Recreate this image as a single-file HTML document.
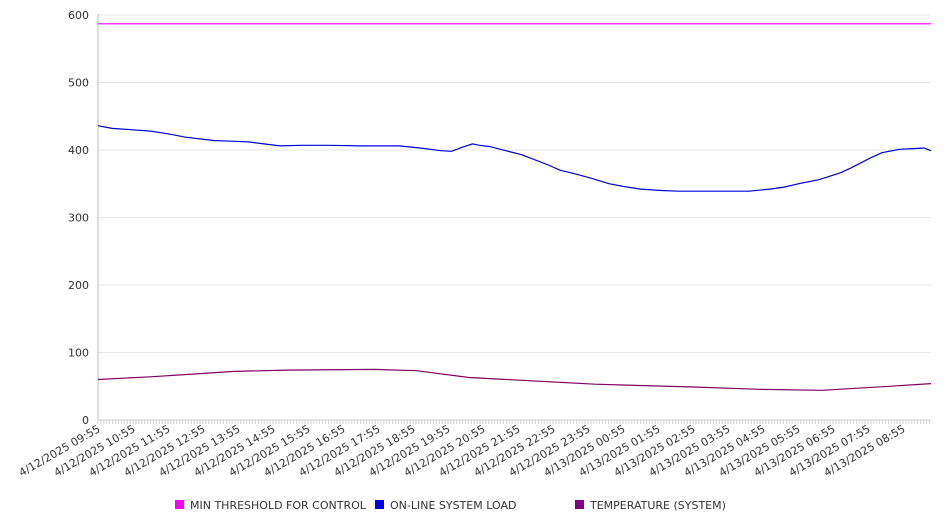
<!DOCTYPE html>
<html><head><meta charset="utf-8"><style>
body{margin:0;background:#fff;}
svg{display:block;font-family:"DejaVu Sans","Liberation Sans",sans-serif;}
</style></head><body>
<svg id="chart" width="946" height="526" viewBox="0 0 946 526" xmlns="http://www.w3.org/2000/svg">
<g id="grid"></g>
<g id="yaxis"></g>
<g id="xaxis"></g>
<g id="series"></g>
<g id="legend">
  <g><rect x="175" y="500" width="9" height="9" fill="#ff00ff"/><text x="190" y="509" font-size="11" fill="#333">MIN THRESHOLD FOR CONTROL</text></g>
  <g><rect x="375" y="500" width="9" height="9" fill="#0000ee"/><text x="390" y="509" font-size="11" fill="#333">ON-LINE SYSTEM LOAD</text></g>
  <g><rect x="575" y="500" width="9" height="9" fill="#800080"/><text x="590" y="509" font-size="11" fill="#333">TEMPERATURE (SYSTEM)</text></g>
</g>
</svg>
<script>
const yTicks=[0,100,200,300,400,500,600];
const xLabels=["4/12/2025 09:55","4/12/2025 10:55","4/12/2025 11:55","4/12/2025 12:55","4/12/2025 13:55","4/12/2025 14:55","4/12/2025 15:55","4/12/2025 16:55","4/12/2025 17:55","4/12/2025 18:55","4/12/2025 19:55","4/12/2025 20:55","4/12/2025 21:55","4/12/2025 22:55","4/12/2025 23:55","4/13/2025 00:55","4/13/2025 01:55","4/13/2025 02:55","4/13/2025 03:55","4/13/2025 04:55","4/13/2025 05:55","4/13/2025 06:55","4/13/2025 07:55","4/13/2025 08:55"];
// hours since 09:55
const thresholdHours=[0,23.8];
const thresholdValues=[587,587];
const loadHours=[0,0.4,1.0,1.5,2.0,2.5,3.3,3.8,4.3,5.2,5.8,6.6,7.5,8.6,9.2,9.8,10.1,10.4,10.7,10.9,11.2,11.5,11.8,12.1,12.5,12.9,13.2,13.6,14.1,14.6,15.0,15.5,16.1,16.6,17.5,18.6,19.2,19.6,20.1,20.6,20.9,21.2,21.5,21.8,22.1,22.4,22.9,23.3,23.6,23.8];
const loadValues=[436,432,430,428,424,419,414,413,412,406,407,407,406,406,403,399,398,404,409,407,405,401,397,393,385,377,370,365,358,350,346,342,340,339,339,339,342,345,351,356,361,366,373,381,389,396,401,402,403,399];
const tempHours=[0,1.5,2.7,3.9,5.4,7.9,9.1,10.6,14.2,16.9,18.9,20.7,22.6,23.8];
const tempValues=[60,64,68,72,74,75,73,63,53,49,45.5,44,50,54];

const NS="http://www.w3.org/2000/svg";
const X0=98,PXH=35,Y0=420,PXU=0.675,XEND=931;
const xs=h=>X0+h*PXH;
const ys=v=>Y0-v*PXU;
function mk(tag,attrs,parent){const e=document.createElementNS(NS,tag);for(const k in attrs)e.setAttribute(k,attrs[k]);parent.appendChild(e);return e;}
const grid=document.getElementById('grid'),yaxis=document.getElementById('yaxis'),xaxis=document.getElementById('xaxis'),series=document.getElementById('series');
yTicks.forEach(t=>{
  const l=mk('line',{x1:X0,x2:XEND,y1:ys(t),y2:ys(t),stroke:'#e6e6e6','stroke-width':1},grid);
  
  
  const tx=mk('text',{x:89,y:ys(t)+4,'text-anchor':'end','font-size':11,fill:'#333'},yaxis);
  tx.textContent=t;
  
  
});
const ax=mk('line',{x1:X0,x2:X0,y1:ys(600)-1,y2:Y0,stroke:'#bbb','stroke-width':1},yaxis);


const bx=mk('line',{x1:X0,x2:XEND,y1:Y0,y2:Y0,stroke:'#ccc','stroke-width':1},xaxis);


for(let m=0;m<=23.8*12;m++){
  const x=xs(m/12);
  const tk=mk('line',{x1:x,x2:x,y1:Y0,y2:Y0+4,stroke:'#ccc','stroke-width':0.8},xaxis);
  
  
}
xLabels.forEach((s,i)=>{
  const x=xs(i)+3,y=Y0+11;
  const t=mk('text',{x:x,y:y,'text-anchor':'end','font-size':11,fill:'#333',transform:`rotate(-30 ${x} ${y})`},xaxis);
  t.textContent=s;
  
  
});
function line(hs,vs,color,name){
  const d=hs.map((h,i)=>(i?'L':'M')+xs(h).toFixed(1)+' '+ys(vs[i]).toFixed(1)).join(' ');
  const p=mk('path',{d:d,fill:'none',stroke:color,'stroke-width':1.2},series);
  
  
}
line(thresholdHours,thresholdValues,'#ff00ff','threshold-line');
line(loadHours,loadValues,'#0000dd','system-load-line');
line(tempHours,tempValues,'#800060','temperature-line');
</script>
</body></html>
